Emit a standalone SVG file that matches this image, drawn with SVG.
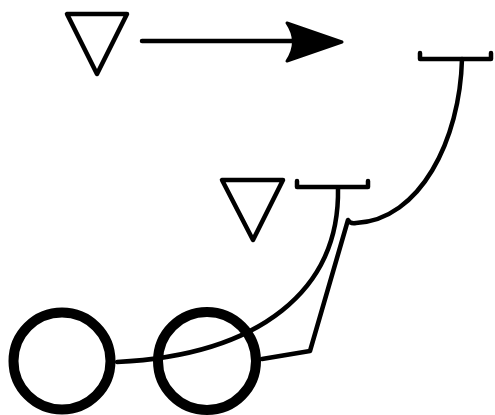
<svg xmlns="http://www.w3.org/2000/svg" width="495" height="415" viewBox="0 0 495 415">
<style>
.s{fill:none;stroke:#000;stroke-width:4.5;stroke-linecap:round;stroke-linejoin:round}
.c{fill:none;stroke:#000;stroke-width:10}
</style>
<rect width="495" height="415" fill="#fff"/>
<g id="connectors">
<path class="s" d="M142 41 H300"/>
<path d="M342 42 L287 23 Q300 42 287 61 Z" fill="#000" stroke="#000" stroke-width="3" stroke-linejoin="round"/>
<path class="s" d="M338 188 C340 290 260 355 117 362"/>
<path class="s" d="M262 359 L310 351 L348 220 Q350 224 356 223 C420 220 460 140 462 59"/>
</g>
<g id="tri1"><path class="s" d="M67 14 H127 L97 74 Z"/></g>
<g id="tri2"><path class="s" d="M222 180 H283 L253 240 Z"/></g>
<g id="bar1"><path class="s" d="M420 53 V59 H491 V53"/></g>
<g id="bar2"><path class="s" d="M297 181 V187 H368 V181"/></g>
<g id="circle1"><circle class="c" cx="62" cy="361" r="48.5"/></g>
<g id="circle2"><circle class="c" cx="207" cy="361" r="49"/></g>
</svg>
